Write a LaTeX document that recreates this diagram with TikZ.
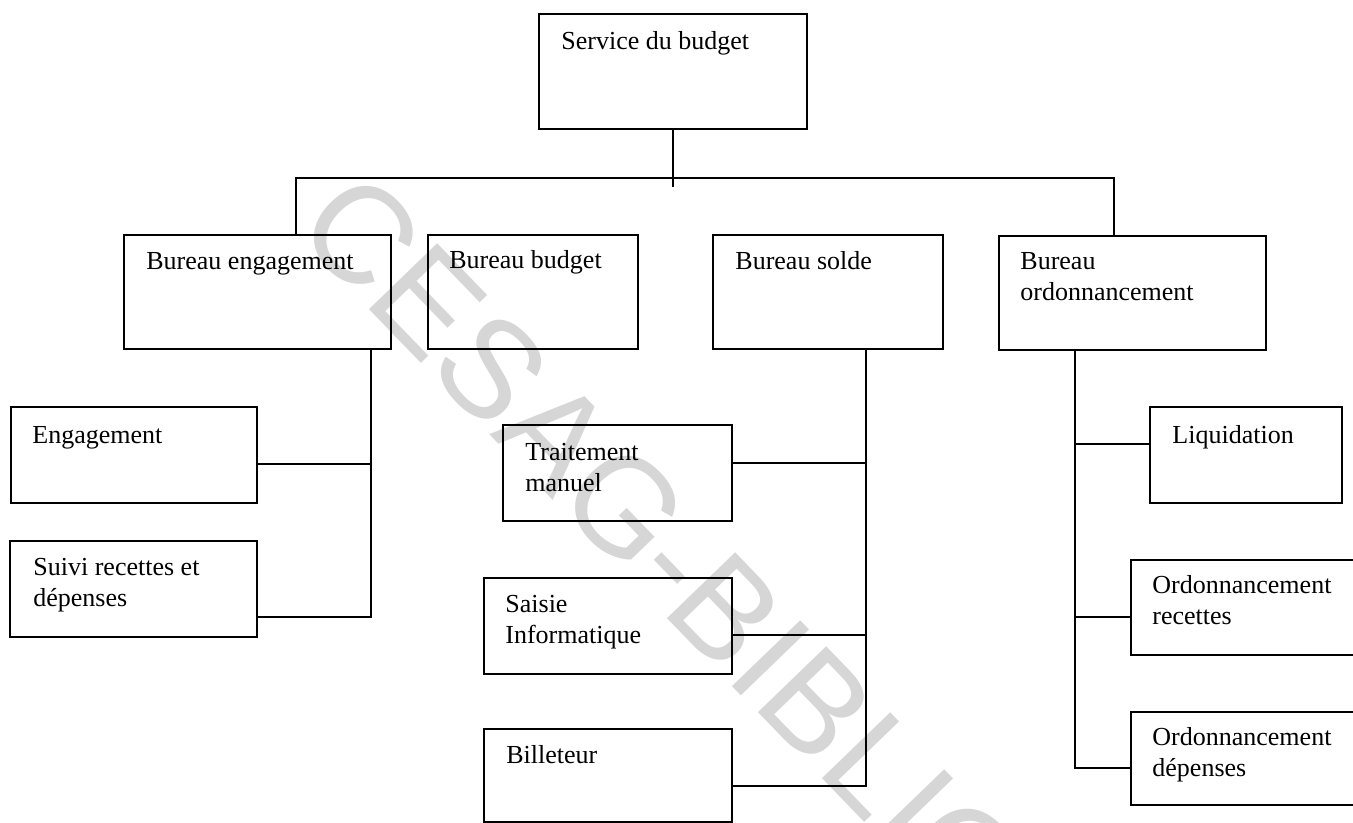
\documentclass[tikz,border=0pt]{standalone}
\usepackage{fontspec}
\setmainfont{Liberation Serif}
\newfontfamily\wmfont{Liberation Sans}
\definecolor{wmgray}{RGB}{214,214,214}
% two lines of a label, baseline on the first line
\newcommand\stackedtext[2]{\vtop{\hbox{#1}\hbox{#2}}}
\begin{document}
\begin{tikzpicture}[x=0.5pt,y=-0.5pt,
  box/.style 2 args={draw, line width=1pt, inner sep=0pt, outer sep=0pt,
    anchor=north west, minimum width=#1*0.5pt, minimum height=#2*0.5pt},
  lbl/.style={anchor=base west, inner sep=0pt,
    font=\fontsize{13pt}{15.5pt}\selectfont},
  link/.style={line width=1pt},
  wmark/.style={anchor=base west, inner sep=0pt, text=wmgray,
    font=\wmfont\fontsize{69pt}{72pt}\selectfont, rotate=-46}]
\useasboundingbox (0,0) rectangle (1353,823);
\clip (0,0) rectangle (1353,823);

% background stamp
\node[wmark] (stamp) at (292,230) {CESAG-BIBLIO};

% boxes
\node[box={268}{115}] (sb)  at (539,14)  {};
\node[box={267}{114}] (be)  at (124,235) {};
\node[box={210}{114}] (bb)  at (428,235) {};
\node[box={230}{114}] (bs)  at (713,235) {};
\node[box={267}{114}] (bo)  at (999,236) {};
\node[box={246}{96}]  (eng) at (11,407)  {};
\node[box={247}{96}]  (sui) at (10,541)  {};
\node[box={229}{96}]  (tm)  at (503,425) {};
\node[box={248}{96}]  (si)  at (484,578) {};
\node[box={248}{93}]  (bil) at (484,729) {};
\node[box={192}{96}]  (liq) at (1150,407) {};
\node[box={240}{95}]  (orr) at (1131,560) {};
\node[box={240}{93}]  (ord) at (1131,712) {};

% labels
\node[lbl] (sbT)  at ([shift={(22,36)}]sb.north west)  {Service du budget};
\node[lbl] (beT)  at ([shift={(22,35)}]be.north west)  {Bureau engagement};
\node[lbl] (bbT)  at ([shift={(21,34)}]bb.north west)  {Bureau budget};
\node[lbl] (bsT)  at ([shift={(22,35)}]bs.north west)  {Bureau solde};
\node[lbl] (boT)  at ([shift={(21,34)}]bo.north west)  {\stackedtext{Bureau}{ordonnancement}};
\node[lbl] (engT) at ([shift={(21,36)}]eng.north west) {Engagement};
\node[lbl] (suiT) at ([shift={(23,34)}]sui.north west) {\stackedtext{Suivi recettes et}{dépenses}};
\node[lbl] (tmT)  at ([shift={(22,35)}]tm.north west)  {\stackedtext{Traitement}{manuel}};
\node[lbl] (siT)  at ([shift={(21,34)}]si.north west)  {\stackedtext{Saisie}{Informatique}};
\node[lbl] (bilT) at ([shift={(22,34)}]bil.north west) {Billeteur};
\node[lbl] (liqT) at ([shift={(22,36)}]liq.north west) {Liquidation};
\node[lbl] (orrT) at ([shift={(21,33)}]orr.north west) {\stackedtext{Ordonnancement}{recettes}};
\node[lbl] (ordT) at ([shift={(21,33)}]ord.north west) {\stackedtext{Ordonnancement}{dépenses}};

% junction points
\coordinate (stem) at (673,187);
\coordinate (busL) at (296,178);
\coordinate (busR) at (1114,178);
\coordinate (beA) at (371,464);
\coordinate (beB) at (371,617);
\coordinate (bsA) at (866,463);
\coordinate (bsB) at (866,635);
\coordinate (bsC) at (866,786);
\coordinate (boA) at (1075,444);
\coordinate (boB) at (1075,617);
\coordinate (boC) at (1075,768);

% top level
\draw[link] (sb.south) -- (stem);
\draw[link] (be.north -| busL) -- (busL) -- (busR) -- (bo.north -| busR);

% Bureau engagement
\draw[link] (be.south -| beA) -- (beB) -- (sui.east |- beB);
\draw[link] (beA) -- (eng.east |- beA);

% Bureau solde
\draw[link] (bs.south -| bsA) -- (bsC) -- (bil.east |- bsC);
\draw[link] (bsA) -- (tm.east |- bsA);
\draw[link] (bsB) -- (si.east |- bsB);

% Bureau ordonnancement
\draw[link] (bo.south -| boA) -- (boC) -- (ord.west |- boC);
\draw[link] (boA) -- (liq.west |- boA);
\draw[link] (boB) -- (orr.west |- boB);
\end{tikzpicture}
\end{document}
